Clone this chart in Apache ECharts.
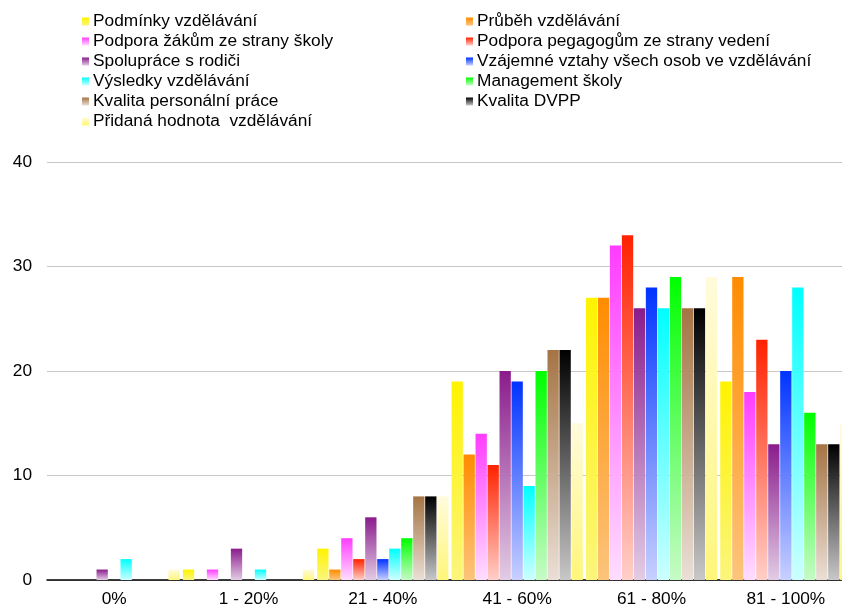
<!DOCTYPE html>
<html>
<head>
<meta charset="utf-8">
<script src="https://cdn.jsdelivr.net/npm/echarts@6/dist/echarts.min.js"></script>
<style>html,body{margin:0;padding:0;background:#fff;}#c{width:842px;height:610px;}</style>
</head>
<body>
<div id="c"></div>
<script>
const categories = ['0%', '1 - 20%', '21 - 40%', '41 - 60%', '61 - 80%', '81 - 100%'];
const yTicks = [0, 10, 20, 30, 40];

const podminky        = [0, 1, 3, 19, 27, 19];
const prubeh          = [0, 0, 1, 12, 27, 29];
const podporaZakum    = [0, 1, 4, 14, 32, 18];
const podporaPedagogum= [0, 0, 2, 11, 33, 23];
const spoluprace      = [1, 3, 6, 20, 26, 13];
const vztahy          = [0, 0, 2, 19, 28, 20];
const vysledky        = [2, 1, 3, 9, 26, 28];
const management      = [0, 0, 4, 20, 29, 16];
const personalni      = [0, 0, 8, 22, 26, 13];
const dvpp            = [0, 0, 8, 22, 26, 13];
const pridana         = [1, 1, 8, 15, 29, 15];

const seriesNames = [
  'Podmínky vzdělávání',
  'Průběh vzdělávání',
  'Podpora žákům ze strany školy',
  'Podpora pegagogům ze strany vedení',
  'Spolupráce s rodiči',
  'Vzájemné vztahy všech osob ve vzdělávání',
  'Výsledky vzdělávání',
  'Management školy',
  'Kvalita personální práce',
  'Kvalita DVPP',
  'Přidaná hodnota  vzdělávání'
];
const seriesValues = [podminky, prubeh, podporaZakum, podporaPedagogum, spoluprace, vztahy, vysledky, management, personalni, dvpp, pridana];

const colorTop =    ['#FFF300', '#FF8C00', '#FF3CFF', '#FF2200', '#8A1C8C', '#0033FF', '#00FFFF', '#00FF00', '#A57444', '#000000', '#FFFBDC'];
const colorBottom = ['#FBF57C', '#FCC47C', '#FFDDFF', '#FFCFC8', '#E2CCE4', '#C8D0FF', '#CCFFFF', '#C6FBC6', '#EADFD6', '#C8C8C8', '#FFF67A'];

const FONT = "'Liberation Sans', Arial, sans-serif";
const FS = 17.3;

const series = seriesNames.map((name, i) => ({
  name: name,
  type: 'bar',
  data: seriesValues[i],
  barGap: '6%',
  barCategoryGap: '2.3%',
  itemStyle: {
    color: {
      type: 'linear', x: 0, y: 0, x2: 0, y2: 1,
      colorStops: [{offset: 0, color: colorTop[i]}, {offset: 1, color: colorBottom[i]}]
    }
  },
  emphasis: {disabled: true},
  animation: false
}));

const legendCommon = {
  orient: 'vertical',
  top: 13,
  padding: 0,
  itemWidth: 7,
  itemHeight: 8,
  itemGap: 3,
  textStyle: {fontFamily: FONT, fontSize: FS, color: '#000', lineHeight: 17, padding: [0, 0, 0, -1]},
  icon: 'rect',
  selectedMode: false
};

const option = {
  backgroundColor: '#fff',
  animation: false,
  legend: [
    Object.assign({}, legendCommon, {left: 82, data: seriesNames.filter((_, i) => i % 2 === 0)}),
    Object.assign({}, legendCommon, {left: 466, data: seriesNames.filter((_, i) => i % 2 === 1)})
  ],
  grid: {left: 47, width: 806, top: 162, bottom: 30, containLabel: false, outerBoundsMode: 'none'},
  xAxis: {
    type: 'category',
    data: categories,
    axisTick: {show: false},
    axisLine: {show: true, lineStyle: {color: '#000', width: 1.5}},
    axisLabel: {fontFamily: FONT, fontSize: FS, color: '#000', margin: 11}
  },
  yAxis: {
    type: 'value',
    min: yTicks[0],
    max: yTicks[yTicks.length - 1],
    interval: 10,
    axisLine: {show: false},
    axisTick: {show: false},
    axisLabel: {fontFamily: FONT, fontSize: FS, color: '#000', margin: 15},
    splitLine: {lineStyle: {color: '#C8C8C8', width: 1}}
  },
  series: series
};

const chart = echarts.init(document.getElementById('c'), null, {renderer: 'canvas'});
chart.setOption(option);
</script>
</body>
</html>
